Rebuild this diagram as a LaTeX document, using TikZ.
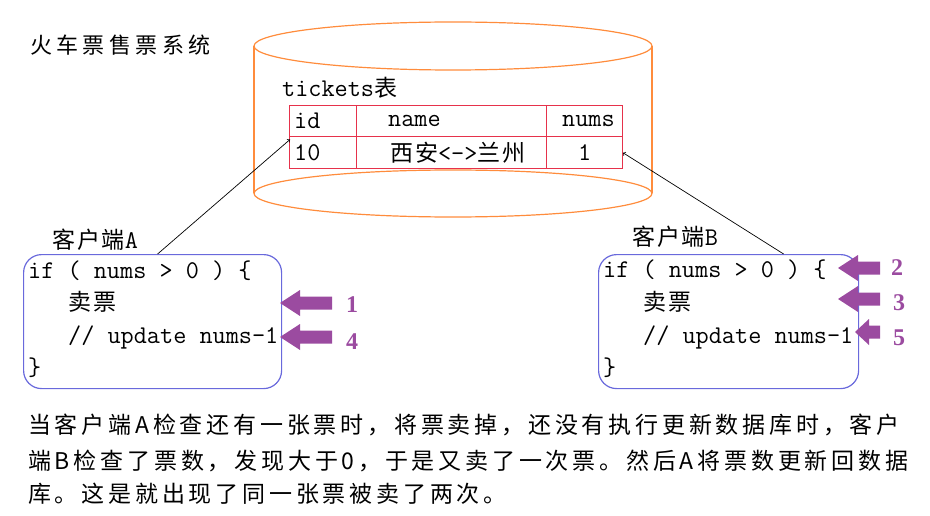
\documentclass[tikz,border=0pt]{standalone}
\usepackage{fontspec}
\newfontfamily\cjk{Noto Sans CJK SC}
\newfontfamily\monof{Latin Modern Mono}
\newfontfamily\serf{Liberation Serif}
\usetikzlibrary{calc}
\definecolor{cylor}{RGB}{255,140,60}
\definecolor{tred}{RGB}{230,50,75}
\definecolor{bblue}{RGB}{105,105,220}
\definecolor{ppl}{RGB}{155,75,160}
\newcommand\zhc[1]{{\cjk\fontsize{23}{25}\selectfont\addfontfeature{LetterSpace=8}#1}}
\newcommand\barrow[4]{\fill[ppl] (#1,#2) -- (#1+#4,#2-13) -- (#1+#4,#2-6.5) -- (#3,#2-6.5) -- (#3,#2+6.5) -- (#1+#4,#2+6.5) -- (#1+#4,#2+13) -- cycle;}
\begin{document}
\begin{tikzpicture}[x=1pt,y=-1pt,
  cyl/.style={draw=cylor,line width=1.2pt},
  cell/.style={draw=tred,line width=1pt,inner sep=0,anchor=north west,minimum height=31.5pt},
  code/.style={inner sep=0,anchor=west,font=\monof\fontsize{25.5}{27}\selectfont},
  box/.style={draw=bblue,line width=1.2pt,rounded corners=18pt,inner sep=0,anchor=north west,minimum height=134pt},
  conn/.style={draw=black,line width=0.7pt,-to},
  num/.style={inner sep=0,text=ppl,font=\serf\bfseries\fontsize{24}{26}\selectfont},
  para/.style={inner sep=0,anchor=west,font=\cjk\fontsize{23}{25}\selectfont\addfontfeature{LetterSpace=16.5}}]
\useasboundingbox (0,0) rectangle (930,516);
% title
\node[inner sep=0,anchor=west] (title) at (30,45) {\cjk\fontsize{22}{24}\selectfont\addfontfeature{LetterSpace=20}火车票售票系统};
% cylinder
\draw[cyl] (254,46) -- (254,193);
\draw[cyl] (652,46) -- (652,193);
\draw[cyl] (453,46) ellipse [x radius=199, y radius=24];
\draw[cyl] (453,193.5) ellipse [x radius=199, y radius=23.5];
\node[code] (tlabel) at (282,88) {tickets\zhc{表}};
% table
\node[cell,minimum width=67pt] (h1) at (289,105) {};
\node[cell,minimum width=190pt] (h2) at (356,105) {};
\node[cell,minimum width=76pt] (h3) at (546,105) {};
\node[cell,minimum width=67pt] (r1) at (289,136.5) {};
\node[cell,minimum width=190pt] (r2) at (356,136.5) {};
\node[cell,minimum width=76pt] (r3) at (546,136.5) {};
\node[code] (tid) at (294,121) {id};
\node[code] (tname) at (388,121) {name};
\node[code] (tnums) at (562,121) {nums};
\node[code] (v10) at (294,153) {10};
\node[code] (vname) at (390,153) {\zhc{西安}<->\zhc{兰州}};
\node[code] (v1) at (578,153) {1};
% client A
\node[box,minimum width=258pt] (boxA) at (23,254) {};
\node[code] (labA) at (52,240) {\zhc{客户端}A};
\node[code] (a1) at (28,271) {if ( nums > 0 ) \{};
\node[code] (a2) at (68,302) {\zhc{卖票}};
\node[code] (a3) at (68,337) {// update nums-1};
\node[code] (a4) at (28,368) {\}};
% client B
\node[box,minimum width=260pt] (boxB) at (598,254) {};
\node[code] (labB) at (632,237) {\zhc{客户端}B};
\node[code] (b1) at (603,270) {if ( nums > 0 ) \{};
\node[code] (b2) at (643,302) {\zhc{卖票}};
\node[code] (b3) at (643,337) {// update nums-1};
\node[code] (b4) at (603,368) {\}};
% connectors
\coordinate (aS) at ($(boxA.north)+(5,0)$);
\coordinate (bS) at ($(boxB.north)+(55,0)$);
\draw[conn] (aS) -- ($(r1.north west)+(1,3)$);
\draw[conn] (bS) -- (r3.east);
% purple arrows
\barrow{280}{303}{332}{20}
\barrow{280}{337}{332}{20}
\barrow{838}{268}{880}{20}
\barrow{838}{299}{880}{20}
\barrow{855}{332}{880}{14}
\node[num] (n1) at (352,305) {1};
\node[num] (n4) at (352,342) {4};
\node[num] (n2) at (897,268) {2};
\node[num] (n3) at (899,303) {3};
\node[num] (n5) at (899,338) {5};
% paragraph
\node[para] (p1) at (28,425) {当客户端A检查还有一张票时，将票卖掉，还没有执行更新数据库时，客户};
\node[para] (p2) at (28,461) {端B检查了票数，发现大于0，于是又卖了一次票。然后A将票数更新回数据};
\node[para] (p3) at (28,494) {库。这是就出现了同一张票被卖了两次。};
\end{tikzpicture}
\end{document}
